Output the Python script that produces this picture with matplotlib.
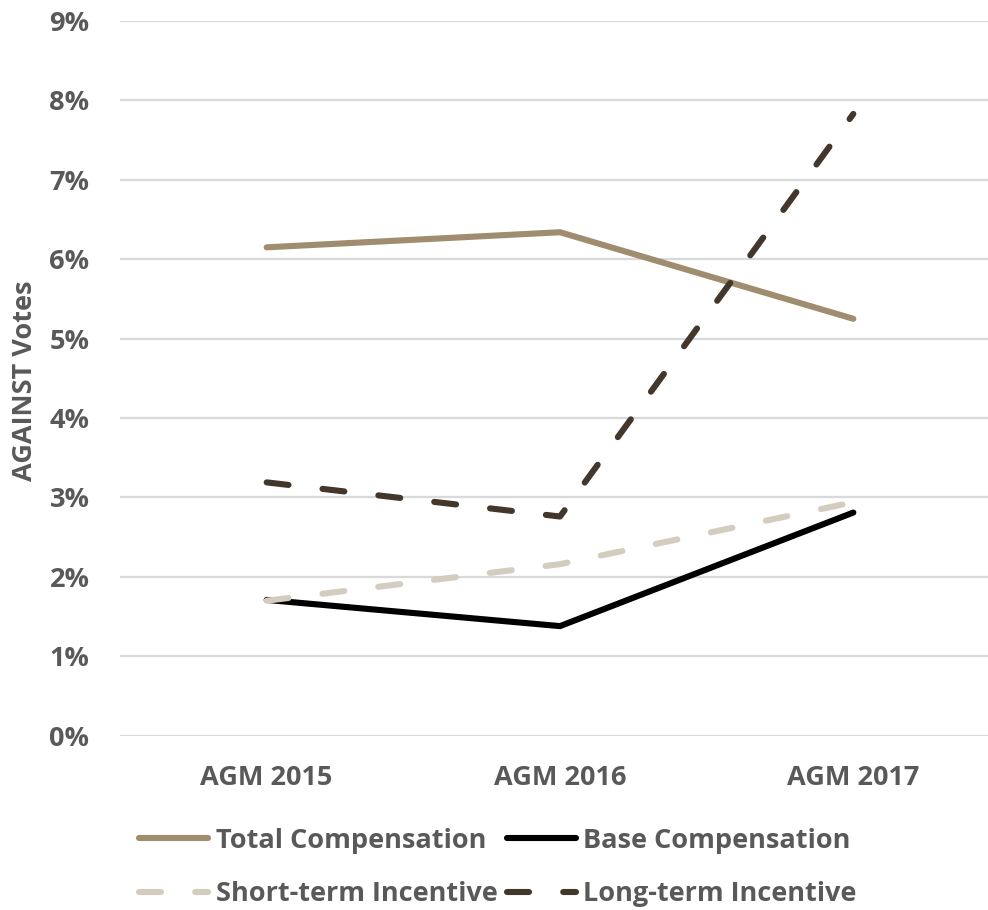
import matplotlib
matplotlib.use("Agg")
import matplotlib.pyplot as plt

# Share of AGAINST votes per compensation item, by AGM
categories = ["AGM 2015", "AGM 2016", "AGM 2017"]
total_comp = [6.15, 6.34, 5.25]
base_comp = [1.71, 1.38, 2.81]
short_term = [1.70, 2.16, 2.94]
long_term = [3.19, 2.76, 7.83]
y_ticks = [0, 1, 2, 3, 4, 5, 6, 7, 8, 9]
y_tick_labels = [f"{v}%" for v in y_ticks]

TEXT = "#595959"
GRID = "#D9D9D9"
C_TOTAL = "#A08C6E"
C_BASE = "#000000"
C_SHORT = "#D5CCC0"
C_LONG = "#43362A"

plt.rcParams["font.family"] = ["Open Sans", "DejaVu Sans"]
plt.rcParams["font.weight"] = "bold"
FS = 19.5

W, H = 988, 910
fig = plt.figure(figsize=(W / 100, H / 100), dpi=100)
ax = fig.add_axes([120 / W, (H - 735.7) / H, (1000 - 120) / W, (735.7 - 21) / H])

x = list(range(len(categories)))
lw = 4.4
dash = (3.6, 5.6)
l_total, = ax.plot(x, total_comp, color=C_TOTAL, lw=lw, solid_capstyle="round",
                   solid_joinstyle="miter", label="Total Compensation", zorder=3)
l_base, = ax.plot(x, base_comp, color=C_BASE, lw=lw, solid_capstyle="round",
                  solid_joinstyle="miter", label="Base Compensation", zorder=3)
l_short, = ax.plot(x, short_term, color=C_SHORT, lw=lw, dashes=dash,
                   dash_capstyle="round", label="Short-term Incentive", zorder=3)
l_long, = ax.plot(x, long_term, color=C_LONG, lw=lw, dashes=dash,
                  dash_capstyle="round", label="Long-term Incentive", zorder=3)

ax.set_xlim(-0.5, 2.5)
ax.set_ylim(0, 9)
ax.set_yticks(y_ticks)
ax.set_yticklabels(y_tick_labels)
ax.set_xticks(x)
ax.set_xticklabels(categories)
ax.tick_params(axis="both", length=0, labelsize=FS, colors=TEXT)
ax.tick_params(axis="y", pad=22)
ax.tick_params(axis="x", pad=21)
for lab in ax.get_xticklabels() + ax.get_yticklabels():
    lab.set_fontweight("bold")
ax.grid(axis="y", color=GRID, lw=1.6)
ax.set_axisbelow(True)
for s in ax.spines.values():
    s.set_visible(False)

fig.text(25 / W, 1 - 381 / H, "AGAINST Votes", rotation=90, ha="center", va="center",
         fontsize=FS, fontweight="bold", color=TEXT)

leg = fig.legend([l_total, l_short, l_base, l_long],
                 ["Total Compensation", "Short-term Incentive",
                  "Base Compensation", "Long-term Incentive"],
                 ncol=2, loc="center", bbox_to_anchor=(498 / W, 1 - 867.5 / H),
                 frameon=False, fontsize=FS, handlelength=2.55, handletextpad=0.27,
                 columnspacing=0.35, labelspacing=1.0, borderpad=0, borderaxespad=0)
for t in leg.get_texts():
    t.set_color(TEXT)
    t.set_fontweight("bold")

fig.savefig("out.png", dpi=100)
